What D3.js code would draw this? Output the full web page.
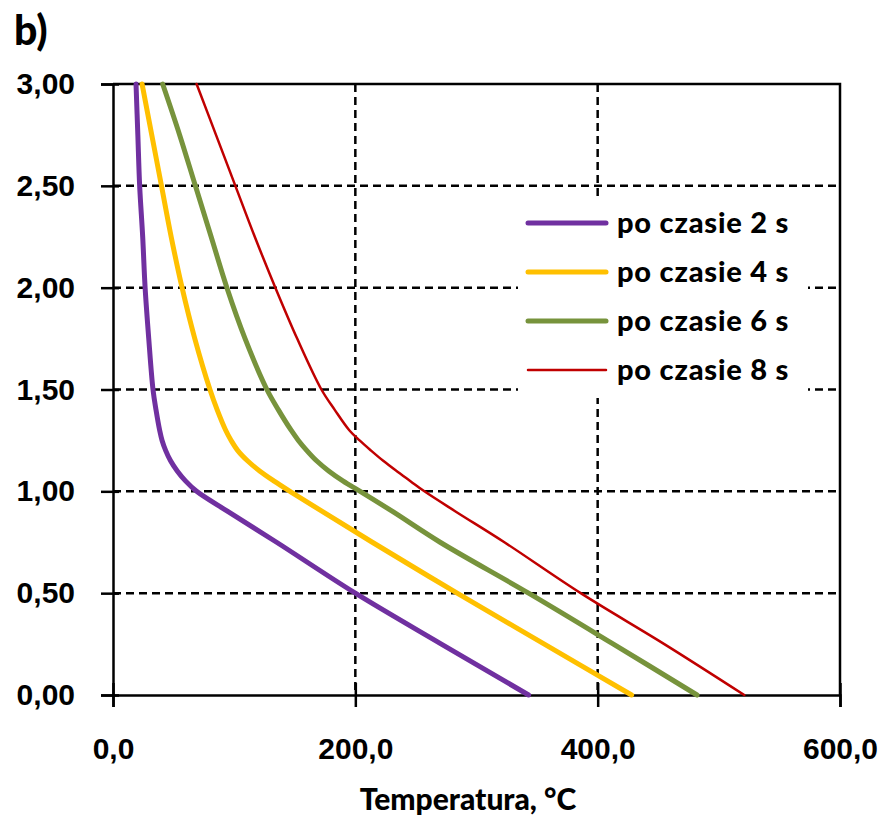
<!DOCTYPE html>
<html lang="pl">
<head>
    <meta charset="UTF-8">
    <title>Temperatura</title>
    <script src="https://d3js.org/d3.v7.min.js"></script>
    <style>
        body { margin: 0; background: #fff; }
        svg { font-family: Lato, "Open Sans", sans-serif; font-weight: 900; }
        .tick text { font-size: 30px; fill: #000; }
    </style>
</head>
<body>
    <div id="chart"></div>
    <script>
        // depth (y) vs temperature (x) for each time step
        const depths = [3.0, 2.75, 2.5, 2.25, 2.0, 1.75, 1.5, 1.4, 1.3, 1.25, 1.2, 1.15, 1.1, 1.05, 1.0, 0.9, 0.75, 0.5, 0.25, 0.0];
        const temp2s = [19, 20.5, 22, 24.5, 26.5, 29.5, 33, 35.5, 38.5, 40.5, 43.5, 47.5, 53, 60, 69, 95, 135, 200, 271, 343];
        const temp4s = [24, 32, 40, 48, 57, 67.5, 80, 86, 93, 97.5, 103, 111, 121, 133, 146, 173, 214, 284, 356, 428];
        const temp6s = [41, 55, 68, 81, 94, 109, 127, 136.5, 147, 153, 160, 168, 178, 190, 204, 231, 270, 343, 413, 482];
        const temp8s = [69, 85, 101, 117, 134, 152, 172, 183, 195, 203.5, 213, 223, 234, 245.5, 257, 283, 323, 386, 455, 521];

        const seriesNames = ["po czasie 2 s", "po czasie 4 s", "po czasie 6 s", "po czasie 8 s"];
        const seriesColors = ["#7030A0", "#FFC000", "#77933C", "#C00000"];
        const seriesWidths = [5, 5, 5, 2.5];
        const xTicks = [0, 200, 400, 600];
        const yTicks = [0, 0.5, 1.0, 1.5, 2.0, 2.5, 3.0];

        const series = [temp2s, temp4s, temp6s, temp8s].map((vals, i) => ({
            name: seriesNames[i],
            color: seriesColors[i],
            width: seriesWidths[i],
            points: vals.map((t, j) => ({ t: t, d: depths[j] }))
        }));

        const width = 887, height = 819;
        const pLeft = 113, pRight = 840, pTop = 84, pBottom = 695;

        const svg = d3.select("#chart").append("svg")
            .attr("width", width)
            .attr("height", height);

        const x = d3.scaleLinear().domain([0, 600]).range([pLeft, pRight]);
        const y = d3.scaleLinear().domain([0, 3]).range([pBottom, pTop]);

        const fmtX = d => d.toFixed(1).replace(".", ",");
        const fmtY = d => d.toFixed(2).replace(".", ",");

        // grid
        svg.append("g")
            .selectAll("line")
            .data(xTicks.filter(d => d > 0 && d < 600))
            .enter().append("line")
            .attr("x1", d => x(d)).attr("x2", d => x(d))
            .attr("y1", pTop).attr("y2", pBottom)
            .attr("stroke", "#000").attr("stroke-width", 2.5)
            .attr("stroke-dasharray", "8,5");

        svg.append("g")
            .selectAll("line")
            .data(yTicks.filter(d => d > 0 && d < 3))
            .enter().append("line")
            .attr("x1", pLeft).attr("x2", pRight)
            .attr("y1", d => y(d)).attr("y2", d => y(d))
            .attr("stroke", "#000").attr("stroke-width", 2.5)
            .attr("stroke-dasharray", "8,5");

        // top and right border
        svg.append("path")
            .attr("d", `M${pLeft},${pTop}H${pRight}V${pBottom}`)
            .attr("fill", "none")
            .attr("stroke", "#000")
            .attr("stroke-width", 2.5);

        // axes
        const xAxis = svg.append("g")
            .attr("transform", `translate(0,${pBottom})`)
            .call(d3.axisBottom(x).tickValues(xTicks).tickFormat(fmtX).tickSize(12).tickPadding(31));
        xAxis.select(".domain").attr("stroke-width", 2.5);
        xAxis.selectAll(".tick line").attr("stroke-width", 2.5).attr("y1", -12);

        const yAxis = svg.append("g")
            .attr("transform", `translate(${pLeft},0)`)
            .call(d3.axisLeft(y).tickValues(yTicks).tickFormat(fmtY).tickSize(12).tickPadding(26));
        yAxis.select(".domain").attr("stroke-width", 2.5);
        yAxis.selectAll(".tick line").attr("stroke-width", 2.5).attr("x1", 6);

        // curves
        const line = d3.line()
            .x(p => x(p.t))
            .y(p => y(p.d))
            .curve(d3.curveCatmullRom);

        svg.append("g")
            .selectAll("path")
            .data(series)
            .enter().append("path")
            .attr("d", s => line(s.points))
            .attr("fill", "none")
            .attr("stroke", s => s.color)
            .attr("stroke-width", s => s.width)
            .attr("stroke-linecap", "round");

        // legend
        const legend = svg.append("g").attr("transform", "translate(518,196)");
        legend.append("rect")
            .attr("width", 290).attr("height", 202)
            .attr("fill", "#fff");

        const rows = legend.selectAll(".row")
            .data(series)
            .enter().append("g")
            .attr("class", "row")
            .attr("transform", (d, i) => `translate(0,${27 + i * 49})`);

        rows.append("line")
            .attr("x1", 10).attr("x2", 88)
            .attr("stroke", d => d.color)
            .attr("stroke-width", d => d.width)
            .attr("stroke-linecap", "round");

        rows.append("text")
            .attr("x", 99)
            .attr("dy", "0.35em")
            .style("font-size", "29px")
            .style("letter-spacing", "0.8px")
            .text(d => d.name);

        // titles
        svg.append("text")
            .attr("x", 468)
            .attr("y", 810)
            .attr("text-anchor", "middle")
            .style("font-size", "30px")
            .text("Temperatura, °C");

        svg.append("text")
            .attr("x", 14)
            .attr("y", 45)
            .style("font-size", "41px")
            .text("b)");
    </script>
</body>
</html>
